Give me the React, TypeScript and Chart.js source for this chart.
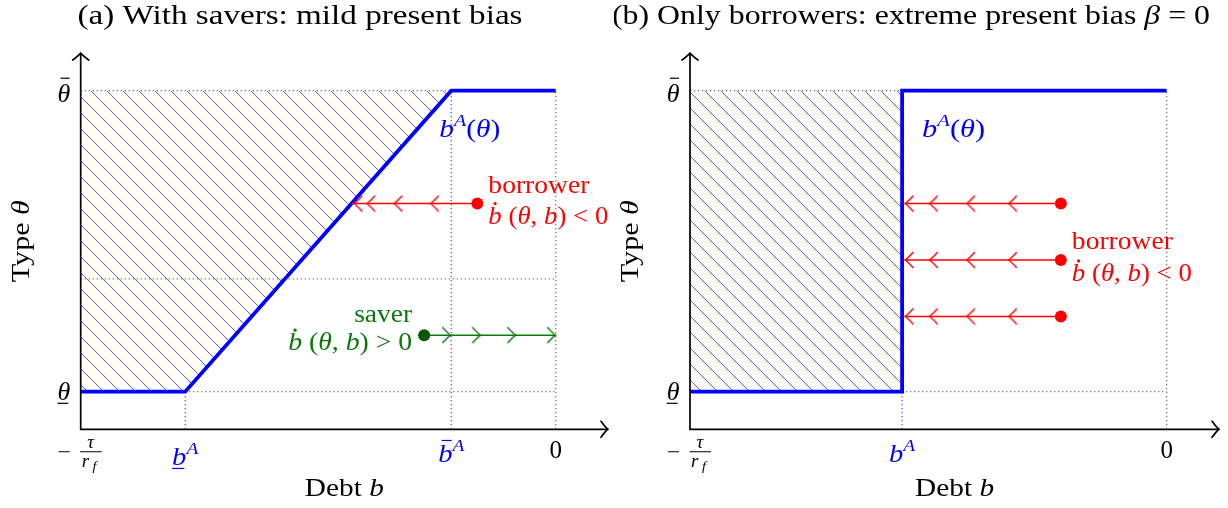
import React, { useEffect, useRef } from 'react';
import { Chart, registerables } from 'chart.js';
Chart.register(...registerables);

const FONT = '"Liberation Serif", "Times New Roman", serif';
const RED = '#ff0000';
const GREEN = '#0a7a0a';
const GREEN_DOT = '#005a00';
const BLUE = '#0000ff';

// ---- shared axis values ----
const X_RANGE = [-10, 1.1]; // x0 = -tau/r_f ... past 0
const Y_RANGE = [0, 10];
const THETA_LO = 1;
const THETA_HI = 9;
const THETA_MID = 4;
const ZERO = 0;

// ---- panel (a): with savers ----
const A_BA_LO = -7.8;
const A_BA_HI = -2.2;
const A_CURVE_X = [-10, -7.8, -2.2, 0];
const A_CURVE_Y = [1, 1, 9, 9];
const A_BORROWER_X = [-1.65, -4.3];
const A_BORROWER_Y = 6;
const A_BORROWER_HEADS = [-2.64, -3.41, -3.98, -4.25];
const A_SAVER_X = [-2.77, 0];
const A_SAVER_Y = 2.5;
const A_SAVER_HEADS = [-2.21, -1.58, -0.84, 0];

// ---- panel (b): only borrowers ----
const B_BA = -5.55;
const B_CURVE_X = [-10, -5.55, -5.55, 0];
const B_CURVE_Y = [1, 1, 9, 9];
const B_BORROWER_X = [-2.22, -5.5];
const B_BORROWER_Y = [6, 4.5, 3];
const B_BORROWER_HEADS = [-3.32, -4.2, -4.98, -5.49];

type Pt = { x: number; y: number };
const pts = (xs: number[], ys: number[]): Pt[] => xs.map((x, i) => ({ x, y: ys[i] }));
const hline = (x1: number, x2: number, y: number): Pt[] => [{ x: x1, y }, { x: x2, y }];
const vline = (x: number, y1: number, y2: number): Pt[] => [{ x, y: y1 }, { x, y: y2 }];

type Piece = { t: string; it?: boolean; s?: number; dy?: number; deco?: 'bar' | 'under' | 'dot'; bh?: number };
type RichOpts = { size: number; color: string; align?: 'left' | 'center' | 'right'; fit?: number; sx?: number };

function fontOf(p: Piece, size: number) {
  const fs = size * (p.s ?? 1);
  return `${p.it ? 'italic ' : ''}${fs}px ${FONT}`;
}

function drawRich(ctx: CanvasRenderingContext2D, pieces: Piece[], x: number, y: number, o: RichOpts) {
  ctx.save();
  const ws = pieces.map((p) => {
    ctx.font = fontOf(p, o.size);
    return ctx.measureText(p.t).width;
  });
  const W = ws.reduce((a, b) => a + b, 0);
  const sx = o.fit ? o.fit / W : o.sx ?? 1.06;
  const total = W * sx;
  const align = o.align ?? 'left';
  let cx = align === 'left' ? x : align === 'center' ? x - total / 2 : x - total;
  ctx.fillStyle = o.color;
  ctx.strokeStyle = o.color;
  ctx.textAlign = 'left';
  ctx.textBaseline = 'alphabetic';
  pieces.forEach((p, i) => {
    const fs = o.size * (p.s ?? 1);
    const by = y + (p.dy ?? 0) * o.size;
    const w = ws[i] * sx;
    ctx.font = fontOf(p, o.size);
    ctx.save();
    ctx.translate(cx, by);
    ctx.scale(sx, 1);
    ctx.fillText(p.t, 0, 0);
    ctx.restore();
    ctx.lineWidth = 1.2;
    if (p.deco === 'bar') {
      const h = by - fs * (p.bh ?? 0.9);
      ctx.beginPath();
      ctx.moveTo(cx + w * 0.25, h);
      ctx.lineTo(cx + w * 0.95, h);
      ctx.stroke();
    } else if (p.deco === 'under') {
      const h = by + fs * 0.14;
      ctx.beginPath();
      ctx.moveTo(cx + w * 0.0, h);
      ctx.lineTo(cx + w * 0.85, h);
      ctx.stroke();
    } else if (p.deco === 'dot') {
      ctx.beginPath();
      ctx.arc(cx + w * 0.5, by - fs * 0.8, fs * 0.065, 0, Math.PI * 2);
      ctx.fill();
    }
    cx += w;
  });
  ctx.restore();
}

function tip(ctx: CanvasRenderingContext2D, x: number, y: number, ang: number, L: number, W: number, lw: number, color: string) {
  ctx.save();
  ctx.translate(x, y);
  ctx.rotate(ang);
  ctx.beginPath();
  ctx.moveTo(-L, -W);
  ctx.quadraticCurveTo(-L * 0.35, -W * 0.22, 0, 0);
  ctx.quadraticCurveTo(-L * 0.35, W * 0.22, -L, W);
  ctx.lineWidth = lw;
  ctx.strokeStyle = color;
  ctx.lineCap = 'round';
  ctx.lineJoin = 'round';
  ctx.stroke();
  ctx.restore();
}

function chevron(color: string): HTMLCanvasElement {
  const c = document.createElement('canvas');
  c.width = 22;
  c.height = 20;
  const g = c.getContext('2d')!;
  tip(g, 11, 10, Math.PI, 8, 7.5, 1.45, color);
  return c;
}

function hatchPattern(ctx: CanvasRenderingContext2D): CanvasPattern {
  const c = document.createElement('canvas');
  c.width = 16;
  c.height = 16;
  const g = c.getContext('2d')!;
  g.strokeStyle = 'rgba(45,45,255,0.85)';
  g.lineWidth = 0.9;
  for (const o of [-16, 0, 16]) {
    g.beginPath();
    g.moveTo(o, 0);
    g.lineTo(o + 16, 16);
    g.stroke();
  }
  return ctx.createPattern(c, 'repeat')!;
}

const gray = (data: Pt[]) => ({
  data, borderColor: '#6f6f6f', borderWidth: 1.2, borderDash: [1.2, 2.8], pointRadius: 0, order: 15, clip: false as any,
});
const blueDot = (data: Pt[]) => ({
  data, borderColor: '#4a4aff', borderWidth: 1.2, borderDash: [1.2, 2.8], pointRadius: 0, order: 14, clip: false as any,
});
const solid = (data: Pt[], color: string, width: number, order: number) => ({
  data, borderColor: color, borderWidth: width, pointRadius: 0, order, clip: false as any,
  borderJoinStyle: 'miter', borderCapStyle: 'butt',
});
const heads = (xs: number[], y: number, img: HTMLCanvasElement, rot: number) => ({
  data: xs.map((x) => ({ x, y })), showLine: false, pointStyle: img, pointRotation: rot, pointRadius: 5, order: 2, clip: false as any,
});
const dot = (x: number, y: number, color: string) => ({
  data: [{ x, y }], showLine: false, pointRadius: 6, pointBackgroundColor: color, pointBorderWidth: 0,
  pointBorderColor: color, order: 1, clip: false as any,
});
const hatch = (data: Pt[], pattern: CanvasPattern) => ({
  data, borderColor: 'rgba(0,0,0,0)', borderWidth: 1, pointRadius: 0, fill: { value: THETA_HI },
  backgroundColor: pattern, order: 20, clip: false as any,
});

const bdot = (rel: string): Piece[] => [
  { t: 'b', it: true, deco: 'dot' }, { t: ' (' }, { t: 'θ', it: true }, { t: ', ' }, { t: 'b', it: true }, { t: ') ' + rel + ' 0' },
];
const bA = (deco?: 'bar' | 'under'): Piece[] => [
  { t: 'b', it: true, deco, bh: 0.82 }, { t: 'A', it: true, s: 0.68, dy: -0.4 },
];
const bAtheta: Piece[] = [
  { t: 'b', it: true }, { t: 'A', it: true, s: 0.68, dy: -0.4 }, { t: '(' }, { t: 'θ', it: true }, { t: ')' },
];

function makeDeco(panel: 'a' | 'b') {
  return {
    id: 'deco' + panel,
    afterDatasetsDraw(chart: any) {
      const ctx: CanvasRenderingContext2D = chart.ctx;
      const X = (v: number) => chart.scales.x.getPixelForValue(v);
      const Y = (v: number) => chart.scales.y.getPixelForValue(v);
      const left = X(X_RANGE[0]);
      const right = X(X_RANGE[1]);
      const bottom = Y(Y_RANGE[0]);
      const top = Y(Y_RANGE[1]);

      // axes
      ctx.save();
      ctx.strokeStyle = '#000';
      ctx.lineWidth = 1.7;
      ctx.lineJoin = 'miter';
      ctx.beginPath();
      ctx.moveTo(left, top + 1);
      ctx.lineTo(left, bottom);
      ctx.lineTo(right - 1, bottom);
      ctx.stroke();
      ctx.restore();
      tip(ctx, left, top, -Math.PI / 2, 7, 8, 1.7, '#000');
      tip(ctx, right, bottom, 0, 7, 8, 1.7, '#000');

      // title
      if (panel === 'a') {
        drawRich(ctx, [{ t: '(a) With savers: mild present bias' }], 300, 24, { size: 28, color: '#000', align: 'center', fit: 445 });
      } else {
        drawRich(ctx, [{ t: '(b) Only borrowers: extreme present bias ' }, { t: 'β', it: true }, { t: ' = 0' }], 297, 24,
          { size: 28, color: '#000', align: 'center', fit: 598 });
      }

      // y ticks
      drawRich(ctx, [{ t: 'θ', it: true, deco: 'bar', bh: 0.9 }], left - 10.5, Y(THETA_HI) + 11, { size: 26, color: '#000', align: 'right', sx: 1 });
      drawRich(ctx, [{ t: 'θ', it: true, deco: 'under' }], left - 10.5, Y(THETA_LO) + 8, { size: 26, color: '#000', align: 'right', sx: 1 });

      // x0 = -tau / r_f
      ctx.save();
      ctx.strokeStyle = '#000';
      ctx.fillStyle = '#000';
      ctx.lineWidth = 1.1;
      const fy = bottom + 22.5;
      ctx.beginPath();
      ctx.moveTo(left - 22, fy);
      ctx.lineTo(left - 11, fy);
      ctx.moveTo(left - 0.5, fy);
      ctx.lineTo(left + 21, fy);
      ctx.stroke();
      ctx.restore();
      drawRich(ctx, [{ t: 'τ', it: true }], left + 10, fy - 4, { size: 18, color: '#000', align: 'center', sx: 1.05 });
      drawRich(ctx, [{ t: 'r', it: true }, { t: ' f', it: true, s: 0.75, dy: 0.2 }], left + 1, fy + 15, { size: 18, color: '#000', align: 'left', sx: 1.05 });

      // x ticks
      drawRich(ctx, [{ t: '0' }], X(ZERO), bottom + 29, { size: 25, color: '#000', align: 'center', sx: 1 });
      if (panel === 'a') {
        drawRich(ctx, bA('under'), X(A_BA_LO), bottom + 35.5, { size: 26, color: BLUE, align: 'center', sx: 1.1 });
        drawRich(ctx, bA('bar'), X(A_BA_HI), bottom + 32.5, { size: 26, color: BLUE, align: 'center', sx: 1.1 });
      } else {
        drawRich(ctx, bA(), X(B_BA), bottom + 32.5, { size: 26, color: BLUE, align: 'center', sx: 1.1 });
      }

      // axis titles
      drawRich(ctx, [{ t: 'Debt ' }, { t: 'b', it: true }], (left + right) / 2, 496, { size: 25, color: '#000', align: 'center', fit: 79 });
      ctx.save();
      ctx.translate(left - 51.7, (top + bottom) / 2);
      ctx.rotate(-Math.PI / 2);
      drawRich(ctx, [{ t: 'Type ' }, { t: 'θ', it: true }], 0, 0, { size: 25, color: '#000', align: 'center', fit: 82 });
      ctx.restore();

      // annotations
      if (panel === 'a') {
        drawRich(ctx, bAtheta, X(A_BA_HI) - 12, Y(THETA_HI) + 46, { size: 26, color: BLUE, align: 'left', fit: 61 });
        drawRich(ctx, [{ t: 'borrower' }], X(A_BORROWER_X[0]) + 11, Y(A_BORROWER_Y) - 11, { size: 25, color: RED, align: 'left', fit: 101 });
        drawRich(ctx, bdot('<'), X(A_BORROWER_X[0]) + 11, Y(A_BORROWER_Y) + 20, { size: 25, color: RED, align: 'left', fit: 120 });
        drawRich(ctx, [{ t: 'saver' }], X(A_SAVER_X[0]) - 12, Y(A_SAVER_Y) - 13, { size: 25, color: GREEN, align: 'right', fit: 58 });
        drawRich(ctx, bdot('>'), X(A_SAVER_X[0]) - 12, Y(A_SAVER_Y) + 15, { size: 25, color: GREEN, align: 'right', fit: 124 });
      } else {
        drawRich(ctx, bAtheta, X(B_BA) + 20, Y(THETA_HI) + 46, { size: 26, color: BLUE, align: 'left', fit: 63 });
        drawRich(ctx, [{ t: 'borrower' }], X(B_BORROWER_X[0]) + 11, Y(B_BORROWER_Y[1]) - 11, { size: 25, color: RED, align: 'left', fit: 101 });
        drawRich(ctx, bdot('<'), X(B_BORROWER_X[0]) + 11, Y(B_BORROWER_Y[1]) + 21, { size: 25, color: RED, align: 'left', fit: 120 });
      }
    },
  };
}

function buildConfig(panel: 'a' | 'b', ctx: CanvasRenderingContext2D): any {
  const pattern = hatchPattern(ctx);
  const redHead = chevron(RED);
  const greenHead = chevron(GREEN);
  let datasets: any[] = [];
  let padding: any;
  if (panel === 'a') {
    padding = { left: 80.7, right: 4.9, top: 53, bottom: 78.7 };
    datasets = [
      hatch(pts(A_CURVE_X.slice(0, 3), A_CURVE_Y.slice(0, 3)), pattern),
      gray(hline(X_RANGE[0], ZERO, THETA_HI)),
      gray(hline(X_RANGE[0], ZERO, THETA_MID)),
      gray(hline(A_BA_LO, ZERO, THETA_LO)),
      gray(vline(ZERO, Y_RANGE[0], THETA_HI)),
      blueDot(vline(A_BA_LO, Y_RANGE[0], THETA_LO)),
      blueDot(vline(A_BA_HI, Y_RANGE[0], THETA_HI)),
      solid(pts(A_CURVE_X, A_CURVE_Y), BLUE, 3.8, 5),
      solid(pts(A_BORROWER_X, [A_BORROWER_Y, A_BORROWER_Y]), RED, 1.45, 3),
      heads(A_BORROWER_HEADS, A_BORROWER_Y, redHead, 0),
      dot(A_BORROWER_X[0], A_BORROWER_Y, RED),
      solid(pts(A_SAVER_X, [A_SAVER_Y, A_SAVER_Y]), GREEN, 1.45, 3),
      heads(A_SAVER_HEADS, A_SAVER_Y, greenHead, 180),
      dot(A_SAVER_X[0], A_SAVER_Y, GREEN_DOT),
    ];
  } else {
    padding = { left: 76, right: 8.9, top: 53, bottom: 78.7 };
    datasets = [
      hatch(pts(B_CURVE_X.slice(0, 2), B_CURVE_Y.slice(0, 2)), pattern),
      gray(hline(X_RANGE[0], B_BA, THETA_HI)),
      gray(hline(B_BA, ZERO, THETA_LO)),
      gray(vline(ZERO, Y_RANGE[0], THETA_HI)),
      blueDot(vline(B_BA, Y_RANGE[0], THETA_LO)),
      solid(pts(B_CURVE_X, B_CURVE_Y), BLUE, 3.8, 5),
    ];
    for (const y of B_BORROWER_Y) {
      datasets.push(solid(pts(B_BORROWER_X, [y, y]), RED, 1.45, 3));
      datasets.push(heads(B_BORROWER_HEADS, y, redHead, 0));
      datasets.push(dot(B_BORROWER_X[0], y, RED));
    }
  }
  return {
    type: 'line',
    data: { datasets },
    options: {
      animation: false,
      responsive: false,
      events: [],
      layout: { padding },
      elements: { point: { radius: 0 }, line: { tension: 0 } },
      scales: {
        x: { type: 'linear', min: X_RANGE[0], max: X_RANGE[1], display: false },
        y: { type: 'linear', min: Y_RANGE[0], max: Y_RANGE[1], display: false },
      },
      plugins: { legend: { display: false }, tooltip: { enabled: false }, title: { display: false } },
    },
    plugins: [makeDeco(panel)],
  };
}

export default function App() {
  const ra = useRef<HTMLCanvasElement>(null);
  const rb = useRef<HTMLCanvasElement>(null);
  useEffect(() => {
    document.body.style.margin = '0';
    const a = ra.current!;
    const b = rb.current!;
    const ca = new Chart(a, buildConfig('a', a.getContext('2d')!));
    const cb = new Chart(b, buildConfig('b', b.getContext('2d')!));
    return () => {
      ca.destroy();
      cb.destroy();
    };
  }, []);
  return (
    <div style={{ position: 'relative', width: 1228, height: 508, background: '#fff', overflow: 'hidden' }}>
      <canvas ref={ra} width={614} height={508} style={{ position: 'absolute', left: 0, top: 0, width: 614, height: 508 }} />
      <canvas ref={rb} width={614} height={508} style={{ position: 'absolute', left: 614, top: 0, width: 614, height: 508 }} />
    </div>
  );
}
